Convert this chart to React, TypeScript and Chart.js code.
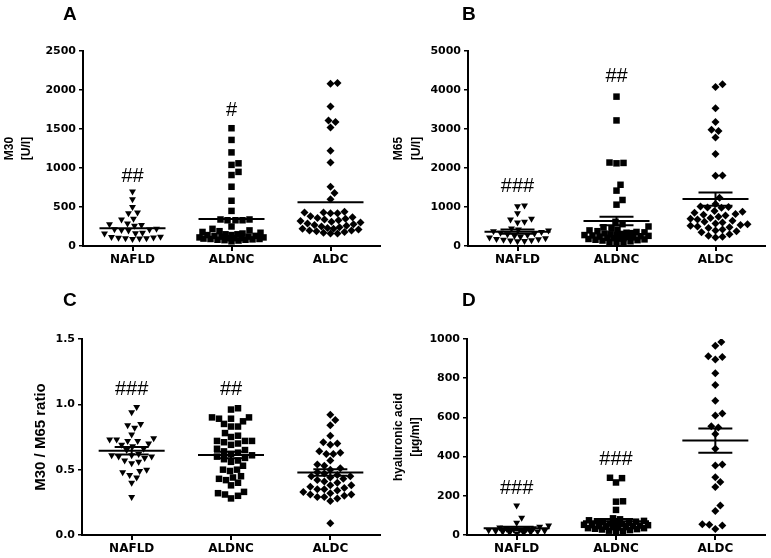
import React, { useEffect, useRef } from 'react';
import { Chart, registerables } from 'chart.js';

Chart.register(...registerables);

const CATEGORIES = ['NAFLD', 'ALDNC', 'ALDC'];

// ---------- Panel A: M30 [U/l] ----------
const A_NAFLD = [700, 600, 500, 430, 420, 350, 340, 290, 280, 270, 260, 220, 215, 210, 205, 200, 170, 165, 160, 120, 115, 110, 105, 100, 100, 95, 90];
const A_ALDNC = [1510, 1360, 1200, 1060, 1040, 950, 910, 760, 580, 450, 340, 340, 330, 330, 330, 250, 220, 200, 190, 180, 170, 160, 150, 150, 140, 140, 130, 130, 120, 120, 110, 110, 100, 100, 100, 95, 90, 90, 85, 80, 80, 75, 70, 60];
const A_ALDC = [2090, 2080, 1790, 1610, 1590, 1520, 1220, 1070, 760, 680, 600, 440, 430, 430, 420, 420, 380, 370, 360, 350, 340, 330, 320, 310, 300, 290, 280, 270, 260, 250, 240, 230, 220, 220, 210, 200, 200, 190, 180, 170, 160, 160];
const A_MEAN = [228, 345, 560];
const A_SEM = [0, 0, 0];
const A_HASH = ['##', '#', ''];
const A_HASH_Y = [897, 1737, 0];
const A_TICKS = [0, 500, 1000, 1500, 2000, 2500];

// ---------- Panel B: M65 [U/l] ----------
const B_NAFLD = [1040, 1020, 840, 700, 680, 620, 600, 450, 420, 400, 380, 360, 340, 320, 300, 280, 260, 240, 220, 200, 180, 170, 160, 150, 140, 130, 120];
const B_ALDNC = [3830, 3220, 2140, 2130, 2120, 1570, 1420, 1180, 1060, 620, 560, 500, 480, 450, 420, 400, 380, 360, 350, 340, 330, 320, 310, 300, 290, 280, 270, 260, 250, 240, 230, 220, 210, 200, 200, 190, 180, 170, 160, 150, 140, 120, 100, 80, 50];
const B_ALDC = [4150, 4080, 3530, 3180, 2980, 2950, 2780, 2360, 1810, 1800, 1240, 1080, 1010, 1000, 990, 980, 900, 880, 850, 820, 800, 780, 750, 720, 700, 680, 650, 620, 600, 580, 560, 540, 520, 500, 480, 460, 420, 400, 380, 350, 300, 260, 240, 220];
const B_MEAN = [367, 641, 1205];
const B_SEM = [55, 110, 170];
const B_HASH = ['###', '##', ''];
const B_HASH_Y = [1526, 4341, 0];
const B_TICKS = [0, 1000, 2000, 3000, 4000, 5000];

// ---------- Panel C: M30 / M65 ratio ----------
const C_NAFLD = [0.98, 0.94, 0.85, 0.84, 0.82, 0.77, 0.74, 0.73, 0.73, 0.72, 0.72, 0.70, 0.69, 0.68, 0.66, 0.65, 0.62, 0.61, 0.61, 0.60, 0.60, 0.59, 0.57, 0.56, 0.55, 0.50, 0.49, 0.48, 0.46, 0.44, 0.40, 0.29];
const C_ALDNC = [0.97, 0.96, 0.90, 0.90, 0.89, 0.89, 0.87, 0.85, 0.83, 0.83, 0.78, 0.76, 0.75, 0.72, 0.72, 0.72, 0.71, 0.70, 0.69, 0.66, 0.65, 0.64, 0.63, 0.62, 0.61, 0.60, 0.59, 0.58, 0.57, 0.56, 0.53, 0.50, 0.50, 0.49, 0.45, 0.44, 0.43, 0.42, 0.40, 0.38, 0.33, 0.32, 0.31, 0.30, 0.28];
const C_ALDC = [0.92, 0.88, 0.84, 0.76, 0.71, 0.70, 0.69, 0.64, 0.63, 0.62, 0.62, 0.57, 0.54, 0.53, 0.51, 0.50, 0.48, 0.47, 0.46, 0.45, 0.45, 0.44, 0.43, 0.42, 0.41, 0.40, 0.38, 0.38, 0.37, 0.36, 0.35, 0.35, 0.34, 0.33, 0.32, 0.31, 0.31, 0.30, 0.29, 0.29, 0.28, 0.26, 0.09];
const C_MEAN = [0.645, 0.613, 0.478];
const C_SEM = [0.028, 0.025, 0.025];
const C_HASH = ['###', '##', ''];
const C_HASH_Y = [1.117, 1.117, 0];
const C_TICKS = [0, 0.5, 1.0, 1.5];

// ---------- Panel D: hyaluronic acid [µg/ml] ----------
const D_NAFLD = [150, 88, 62, 48, 42, 38, 35, 32, 30, 28, 26, 24, 22, 20, 18, 16, 14, 12, 10, 8];
const D_ALDNC = [292, 290, 268, 172, 170, 128, 85, 80, 75, 72, 70, 68, 65, 62, 60, 58, 55, 52, 50, 50, 48, 45, 45, 42, 40, 40, 38, 35, 35, 32, 30, 28, 25, 22, 20, 10];
const D_ALDC = [985, 965, 912, 908, 895, 825, 765, 685, 620, 610, 555, 548, 515, 440, 360, 355, 295, 270, 245, 150, 122, 55, 52, 48, 30];
const D_MEAN = [34, 70, 482];
const D_SEM = [8, 12, 62];
const D_HASH = ['###', '###', ''];
const D_HASH_Y = [238, 386, 0];
const D_TICKS = [0, 200, 400, 600, 800, 1000];

const POINT_STYLES = ['triangle', 'rect', 'rectRot'];
const POINT_ROT = [180, 0, 0];
const POINT_RADIUS = [4, 4.6, 4];

type Spec = {
  groups: number[][];
  mean: number[];
  sem: number[];
  hash: string[];
  hashY: number[];
  ticks: number[];
  decimals: number;
  title: string | string[];
  titleSize: number;
  titleLH: number;
  titlePad: number;
  // layout
  w: number; h: number;
  padTop: number; padRight: number; yW: number; xH: number;
};

const PLOT_H_AB = 195;

// deterministic beeswarm layout (pixel space), returns offsets in category units
function swarm(values: number[], yMax: number, plotH: number, catPx: number): number[] {
  const d0 = 7;
  const maxHalf = 32;
  const order = values.map((_, i) => i).sort((a, b) => values[a] - values[b]);
  const placed: { x: number; y: number }[] = [];
  const out = new Array(values.length).fill(0);
  for (const i of order) {
    const y = (values[i] / yMax) * plotH;
    let dd = d0;
    let best = 0;
    let found = false;
    while (!found) {
      for (let k = 0; k <= maxHalf * 2; k++) {
        const x = (k % 2 === 1 ? 1 : -1) * Math.ceil(k / 2);
        let ok = true;
        for (const p of placed) {
          const dx = p.x - x, dy = p.y - y;
          if (dx * dx + dy * dy < dd * dd) { ok = false; break; }
        }
        if (ok) { best = x; found = true; break; }
      }
      dd *= 0.9;
    }
    placed.push({ x: best, y });
    out[i] = best / catPx;
  }
  return out;
}

const meanPlugin = {
  id: 'meanSem',
  afterDatasetsDraw(chart: any, _args: any, opts: any) {
    const spec: Spec = opts.spec;
    const { ctx } = chart;
    const x = chart.scales.x, y = chart.scales.y;
    ctx.save();
    ctx.strokeStyle = '#000';
    ctx.lineWidth = 2;
    const seg = (x1: number, y1: number, x2: number, y2: number) => {
      ctx.beginPath(); ctx.moveTo(x1, y1); ctx.lineTo(x2, y2); ctx.stroke();
    };
    spec.mean.forEach((m, i) => {
      const cx = x.getPixelForValue(i);
      const my = y.getPixelForValue(m);
      seg(cx - 33, my, cx + 33, my);
      if (spec.sem[i] > 0) {
        const hy = y.getPixelForValue(m + spec.sem[i]);
        const ly = y.getPixelForValue(m - spec.sem[i]);
        seg(cx - 17, hy, cx + 17, hy);
        seg(cx - 17, ly, cx + 17, ly);
        seg(cx, hy, cx, ly);
      }
    });
    ctx.fillStyle = '#000';
    ctx.font = '20px "Liberation Sans", Arial, sans-serif';
    ctx.textAlign = 'center';
    ctx.textBaseline = 'middle';
    spec.hash.forEach((h, i) => {
      if (h) ctx.fillText(h, x.getPixelForValue(i), y.getPixelForValue(spec.hashY[i]));
    });
    ctx.restore();
  },
};

function makeConfig(spec: Spec): any {
  const plotH = spec.h - spec.padTop - spec.xH;
  const plotW = spec.w - spec.yW - spec.padRight;
  const catPx = plotW / 3;
  const yMax = spec.ticks[spec.ticks.length - 1];
  const datasets = spec.groups.map((vals, gi) => {
    const offs = swarm(vals, yMax, plotH, catPx);
    return {
      data: vals.map((v, k) => ({ x: gi + offs[k], y: v })),
      pointStyle: POINT_STYLES[gi],
      rotation: POINT_ROT[gi],
      pointRadius: POINT_RADIUS[gi],
      backgroundColor: '#000',
      borderColor: '#000',
      borderWidth: 0,
    };
  });
  return {
    type: 'scatter',
    data: { datasets },
    options: {
      animation: false,
      responsive: false,
      maintainAspectRatio: false,
      events: [],
      layout: { padding: { left: 0, top: spec.padTop, right: spec.padRight, bottom: 0 } },
      plugins: {
        legend: { display: false },
        tooltip: { enabled: false },
        meanSem: { spec },
      },
      scales: {
        x: {
          type: 'linear',
          min: -0.5,
          max: 2.5,
          afterBuildTicks: (ax: any) => { ax.ticks = [0, 1, 2].map((v) => ({ value: v })); },
          afterFit: (ax: any) => { ax.height = spec.xH; },
          ticks: {
            callback: (v: any) => CATEGORIES[Math.round(v)],
            font: { family: '"DejaVu Sans", sans-serif', weight: 'bold', size: 12 },
            color: '#000',
            padding: 2,
            maxRotation: 0,
            autoSkip: false,
          },
          grid: { drawOnChartArea: false, drawTicks: true, tickLength: 5, color: '#000', lineWidth: 2 },
          border: { display: true, color: '#000', width: 2 },
        },
        y: {
          type: 'linear',
          min: 0,
          max: yMax,
          afterBuildTicks: (ax: any) => { ax.ticks = spec.ticks.map((v) => ({ value: v })); },
          afterFit: (ax: any) => { ax.width = spec.yW; },
          ticks: {
            callback: (v: any) => Number(v).toFixed(spec.decimals),
            font: { family: '"DejaVu Sans", sans-serif', weight: 'bold', size: 11 },
            color: '#000',
            padding: 3,
            autoSkip: false,
          },
          grid: { drawOnChartArea: false, drawTicks: true, tickLength: 4, color: '#000', lineWidth: 1.5 },
          border: { display: true, color: '#000', width: 2 },
          title: {
            display: true,
            text: spec.title,
            color: '#000',
            font: { family: '"Liberation Sans", Arial, sans-serif', weight: 'bold', size: spec.titleSize, lineHeight: spec.titleLH },
            padding: { top: spec.titlePad, bottom: 0 },
          },
        },
      },
    },
    plugins: [meanPlugin],
  };
}

const SPEC_A: Spec = {
  groups: [A_NAFLD, A_ALDNC, A_ALDC], mean: A_MEAN, sem: A_SEM, hash: A_HASH, hashY: A_HASH_Y,
  ticks: A_TICKS, decimals: 0, title: ['M30', '[U/l]'], titleSize: 12, titleLH: 17 / 12, titlePad: 1.5,
  w: 385, h: 270, padTop: 51, padRight: 5, yW: 83, xH: 24,
};
const SPEC_B: Spec = {
  groups: [B_NAFLD, B_ALDNC, B_ALDC], mean: B_MEAN, sem: B_SEM, hash: B_HASH, hashY: B_HASH_Y,
  ticks: B_TICKS, decimals: 0, title: ['M65', '[U/l]'], titleSize: 12, titleLH: 18 / 12, titlePad: 4.5,
  w: 386, h: 270, padTop: 51, padRight: 6, yW: 83, xH: 24,
};
const SPEC_C: Spec = {
  groups: [C_NAFLD, C_ALDNC, C_ALDC], mean: C_MEAN, sem: C_SEM, hash: C_HASH, hashY: C_HASH_Y,
  ticks: C_TICKS, decimals: 1, title: 'M30 / M65 ratio', titleSize: 15, titleLH: 1.2, titlePad: 32,
  w: 385, h: 288, padTop: 69, padRight: 5, yW: 82, xH: 23,
};
const SPEC_D: Spec = {
  groups: [D_NAFLD, D_ALDNC, D_ALDC], mean: D_MEAN, sem: D_SEM, hash: D_HASH, hashY: D_HASH_Y,
  ticks: D_TICKS, decimals: 0, title: ['hyaluronic acid', '[µg/ml]'], titleSize: 12, titleLH: 17 / 12, titlePad: 5.5,
  w: 386, h: 288, padTop: 69, padRight: 6, yW: 82, xH: 23,
};

function Panel({ spec, left, top }: { spec: Spec; left: number; top: number }) {
  const ref = useRef<HTMLCanvasElement>(null);
  useEffect(() => {
    const chart = new Chart(ref.current as HTMLCanvasElement, makeConfig(spec));
    return () => chart.destroy();
  }, [spec]);
  return (
    <canvas
      ref={ref}
      width={spec.w}
      height={spec.h}
      style={{ position: 'absolute', left, top, width: spec.w, height: spec.h }}
    />
  );
}

const letterStyle = (left: number, top: number): React.CSSProperties => ({
  position: 'absolute',
  left,
  top,
  font: 'bold 19px "Liberation Sans", Arial, sans-serif',
  lineHeight: '19px',
  color: '#000',
});

export default function App() {
  return (
    <div style={{ position: 'absolute', left: 0, top: 0, width: 771, height: 558, background: '#fff', overflow: 'hidden' }}>
      <Panel spec={SPEC_A} left={0} top={0} />
      <Panel spec={SPEC_B} left={385} top={0} />
      <Panel spec={SPEC_C} left={0} top={270} />
      <Panel spec={SPEC_D} left={385} top={270} />
      <div style={letterStyle(63, 4)}>A</div>
      <div style={letterStyle(462, 4)}>B</div>
      <div style={letterStyle(63, 290)}>C</div>
      <div style={letterStyle(462, 290)}>D</div>
    </div>
  );
}
